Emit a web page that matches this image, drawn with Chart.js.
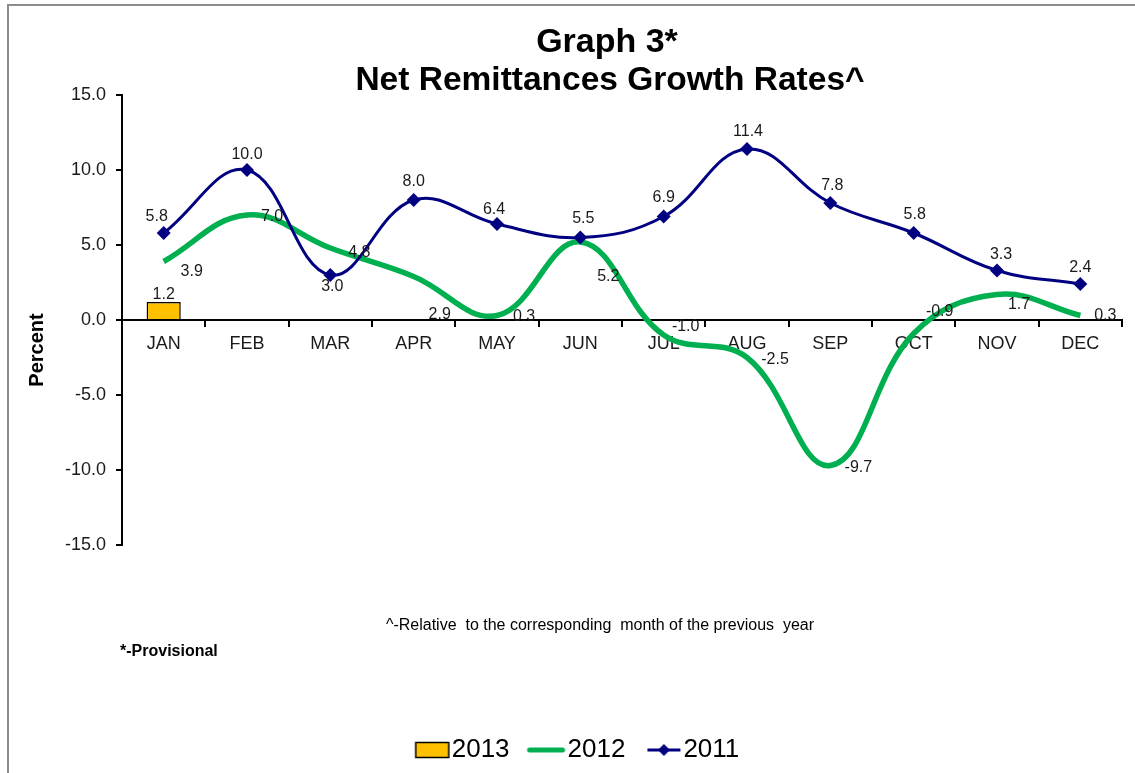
<!DOCTYPE html>
<html>
<head>
<meta charset="utf-8">
<script src="https://cdn.jsdelivr.net/npm/chart.js@4.4.1/dist/chart.umd.min.js"></script>
<style>
body { margin: 0; background: #fff; }
</style>
</head>
<body>
<canvas id="graph3" width="1135" height="773"></canvas>
<script>
var months = ['JAN', 'FEB', 'MAR', 'APR', 'MAY', 'JUN', 'JUL', 'AUG', 'SEP', 'OCT', 'NOV', 'DEC'];
var rates2013 = [1.2, null, null, null, null, null, null, null, null, null, null, null];
var rates2012 = [3.9, 7.0, 4.8, 2.9, 0.3, 5.2, -1.0, -2.5, -9.7, -0.9, 1.7, 0.3];
var rates2011 = [5.8, 10.0, 3.0, 8.0, 6.4, 5.5, 6.9, 11.4, 7.8, 5.8, 3.3, 2.4];
var yTicks = [-15, -10, -5, 0, 5, 10, 15];

// where each value label sits relative to its point (pixels)
var shift2013 = [[0, -7]];
var shift2012 = [[28, 10], [25, 2], [29, 5], [26, 38], [27, 1], [28, 35], [22, -8], [28, 2], [28, 2], [26, -22], [22, 10], [25, 0]];
var shift2011 = [[-7, -16], [0, -15], [2, 12], [0, -18], [-3, -14], [3, -19], [0, -19], [1, -17], [2, -17], [1, -18], [4, -16], [0, -16]];

var FONT = "'Liberation Sans', Arial, sans-serif";

function legendSymbol(kind) {
	var c = document.createElement('canvas');
	c.width = 60;
	c.height = 24;
	var g = c.getContext('2d');
	if (kind == 'bar') {
		g.fillStyle = '#FFC000';
		g.fillRect(17, 4.5, 33, 15);
		g.strokeStyle = '#000';
		g.lineWidth = 1.5;
		g.strokeRect(17, 4.5, 33, 15);
	} else if (kind == 'green') {
		g.strokeStyle = '#00B050';
		g.lineWidth = 5;
		g.lineCap = 'round';
		g.beginPath(); g.moveTo(15, 12); g.lineTo(48, 12); g.stroke();
	} else {
		g.strokeStyle = '#000080';
		g.lineWidth = 3;
		g.beginPath(); g.moveTo(17, 12); g.lineTo(50, 12); g.stroke();
		g.fillStyle = '#000080';
		g.beginPath(); g.moveTo(33.5, 6); g.lineTo(39.5, 12); g.lineTo(33.5, 18); g.lineTo(27.5, 12); g.closePath(); g.fill();
	}
	return c;
}

var valueLabels = {
	id: 'valueLabels',
	afterDatasetsDraw: function(chart) {
		var ctx = chart.ctx;
		var shifts = [shift2013, shift2012, shift2011];
		ctx.save();
		ctx.font = '16px ' + FONT;
		ctx.fillStyle = '#1a1a1a';
		ctx.textAlign = 'center';
		ctx.textBaseline = 'middle';
		chart.data.datasets.forEach(function(ds, i) {
			var meta = chart.getDatasetMeta(i);
			if (meta.hidden || !meta.data) return;
			meta.data.forEach(function(el, j) {
				var v = ds.data[j];
				if (v === null || v === undefined) return;
				var s = shifts[i][j] || [0, -15];
				ctx.fillText(v.toFixed(1), el.x + s[0], el.y + s[1]);
			});
		});
		ctx.restore();
	}
};

var pageText = {
	id: 'pageText',
	beforeDraw: function(chart) {
		var ctx = chart.ctx;
		ctx.save();
		ctx.strokeStyle = '#8c8c8c';
		ctx.lineWidth = 2;
		ctx.beginPath();
		ctx.moveTo(8, chart.height);
		ctx.lineTo(8, 5);
		ctx.lineTo(chart.width, 5);
		ctx.stroke();
		ctx.restore();
	},
	afterDraw: function(chart) {
		var ctx = chart.ctx;
		ctx.save();
		ctx.fillStyle = '#000';
		ctx.textAlign = 'center';
		ctx.textBaseline = 'alphabetic';
		ctx.font = 'bold 34px ' + FONT;
		ctx.fillText('Graph 3*', 607, 52);
		ctx.font = 'bold 33.5px ' + FONT;
		ctx.fillText('Net Remittances Growth Rates^', 610, 90);

		ctx.font = '16px ' + FONT;
		ctx.fillText('^-Relative  to the corresponding  month of the previous  year', 600, 630);

		ctx.textAlign = 'left';
		ctx.font = 'bold 16px ' + FONT;
		ctx.fillText('*-Provisional', 120, 656);

		ctx.translate(37, 350);
		ctx.rotate(-Math.PI / 2);
		ctx.textAlign = 'center';
		ctx.textBaseline = 'middle';
		ctx.font = 'bold 20px ' + FONT;
		ctx.fillText('Percent', 0, 0);
		ctx.restore();
	}
};

var ctx = document.getElementById('graph3');

var graph3 = new Chart(ctx, {
	type: 'bar',
	data: {
		labels: months,
		datasets: [{
			type: 'bar',
			label: '2013',
			data: rates2013,
			backgroundColor: '#FFC000',
			borderColor: '#000',
			borderWidth: 1.5,
			barPercentage: 0.41,
			categoryPercentage: 1,
			order: 3
		}, {
			type: 'line',
			label: '2012',
			data: rates2012,
			borderColor: '#00B050',
			borderWidth: 5.5,
			tension: 0.4,
			pointRadius: 0,
			fill: false,
			order: 2
		}, {
			type: 'line',
			label: '2011',
			data: rates2011,
			borderColor: '#000080',
			backgroundColor: '#000080',
			borderWidth: 3,
			tension: 0.4,
			pointStyle: 'rectRot',
			pointRadius: 7,
			pointBorderWidth: 0,
			fill: false,
			order: 1
		}]
	},
	options: {
		responsive: false,
		animation: false,
		layout: { padding: { left: 36, right: 13, top: 95, bottom: 0 } },
		plugins: {
			title: { display: false },
			tooltip: { enabled: false },
			legend: {
				display: true,
				position: 'bottom',
				labels: {
					usePointStyle: true,
					pointStyleWidth: 20,
					padding: 25,
					color: '#000',
					font: { family: FONT, size: 26 },
					generateLabels: function(chart) {
						var kinds = ['bar', 'green', 'navy'];
						return chart.data.datasets.map(function(ds, i) {
							return {
								text: ds.label,
								datasetIndex: i,
								pointStyle: legendSymbol(kinds[i]),
								fontColor: '#000',
								hidden: false,
								lineWidth: 0
							};
						});
					}
				}
			}
		},
		scales: {
			x: {
				position: { y: 0 },
				offset: true,
				grid: { display: true, drawOnChartArea: false, offset: true, color: '#000', lineWidth: 2, tickLength: 6 },
				border: { display: true, color: '#000', width: 2 },
				ticks: { color: '#1a1a1a', padding: 7, font: { family: FONT, size: 18 } }
			},
			// empty bottom axis that only keeps room for the footnotes
			gap: {
				type: 'category',
				position: 'bottom',
				labels: months,
				grid: { display: false },
				border: { display: false },
				ticks: { display: false },
				afterFit: function(s) {
					var lg = s.chart.legend ? s.chart.legend.height : 0;
					s.height = s.chart.height - 95 - 450 - lg;
				}
			},
			y: {
				min: -15,
				max: 15,
				grid: { display: true, drawOnChartArea: false, color: '#000', lineWidth: 2, tickLength: 6 },
				border: { display: true, color: '#000', width: 2 },
				ticks: {
					color: '#1a1a1a',
					padding: 10,
					font: { family: FONT, size: 18 },
					callback: function(v) { return Number(v).toFixed(1); }
				},
				afterBuildTicks: function(s) {
					s.ticks = yTicks.map(function(v) { return { value: v }; });
				},
				afterFit: function(s) { s.width = 86; }
			}
		}
	},
	plugins: [valueLabels, pageText]
});
</script>
</body>
</html>
